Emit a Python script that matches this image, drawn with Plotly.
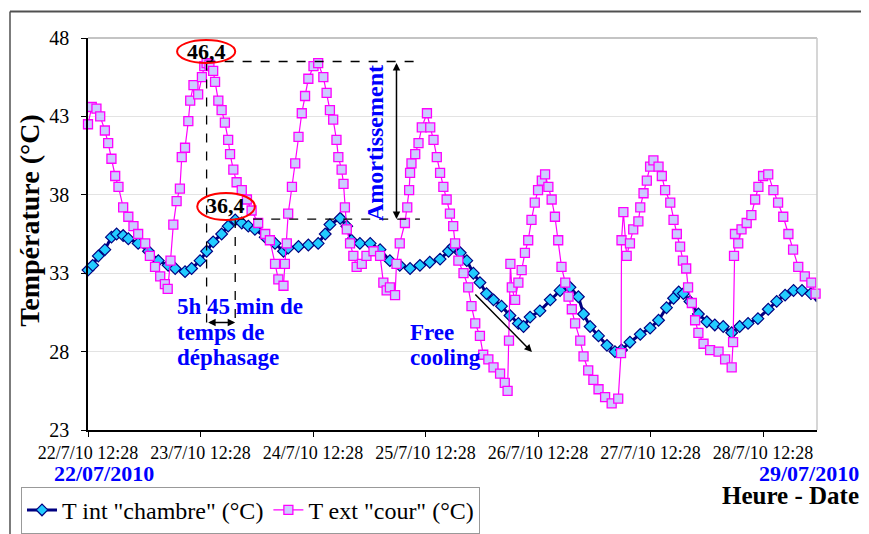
import pandas as pd
import plotly.graph_objects as go

# readings: hours after 22/07/2010 12:28, temperatures in °C
int_hours = [0.0, 1.0, 2.2, 3.6, 5.0, 6.1, 7.5, 8.6, 10.7, 12.9, 15.0, 17.1, 18.6, 20.7,
             22.1, 23.9, 25.3, 26.7, 28.5, 29.9, 31.4, 32.8, 34.2, 35.6, 37.8, 39.9,
             41.7, 42.7, 44.9, 47.0, 49.1, 50.6, 51.6, 53.8, 55.2, 56.2, 58.0, 60.2,
             62.3, 64.4, 66.5, 68.7, 70.8, 72.9, 75.1, 76.9, 77.9, 79.4, 80.8, 82.2,
             83.6, 85.0, 86.5, 88.2, 90.0, 91.8, 92.9, 94.3, 96.4, 98.6, 100.7, 102.8,
             104.6, 105.7, 107.1, 108.9, 110.7, 112.4, 113.8, 115.6, 117.8, 119.9,
             121.7, 123.4, 124.9, 126.0, 127.0, 128.4, 130.2, 132.0, 133.7, 135.5,
             137.3, 139.0, 140.8, 142.9, 145.1, 146.9, 148.7, 150.5, 152.3, 154.2, 155.6]
int_temp = [33.2, 33.5, 34.1, 34.5, 35.3, 35.5, 35.4, 35.2, 34.9, 34.4, 33.8, 33.5, 33.3, 33.1,
            33.3, 33.8, 34.4, 35.0, 35.5, 36.0, 36.4, 36.2, 36.0, 35.8, 35.3, 34.9,
            34.4, 34.6, 34.7, 34.8, 34.9, 35.5, 36.1, 36.5, 36.0, 35.1, 34.9, 34.9,
            34.5, 33.8, 33.5, 33.3, 33.5, 33.7, 33.9, 34.4, 34.7, 34.3, 33.8, 33.0,
            32.4, 31.7, 31.3, 30.9, 30.3, 29.8, 29.6, 30.2, 30.6, 31.3, 31.9, 32.1,
            31.5, 30.4, 29.6, 29.0, 28.4, 28.0, 28.1, 28.6, 29.1, 29.5,
            30.0, 30.8, 31.4, 31.8, 31.7, 31.2, 30.4, 29.9, 29.7, 29.6,
            29.2, 29.6, 29.8, 30.1, 30.7, 31.2, 31.6, 31.9, 31.9, 31.7, 31.2]

ext_hours = [0.0, 0.8, 1.8, 2.6, 3.6, 4.3, 5.0, 5.8, 6.5, 7.5, 8.6, 9.7, 10.7, 12.2, 13.2,
             14.3, 15.4, 16.4, 17.0, 17.6, 18.2, 18.9, 19.6, 20.0, 20.7, 21.4, 21.8,
             22.5, 23.5, 24.3, 24.8, 25.3, 25.9, 26.7, 27.1, 27.8, 28.5, 29.2, 29.9,
             30.3, 31.0, 31.7, 32.8, 33.9, 34.9, 36.3, 37.8, 38.8, 39.9, 40.6, 41.7,
             42.0, 42.4, 42.7, 43.5, 44.2, 44.9, 45.6, 46.3, 47.0, 48.1, 49.1, 50.2,
             50.9, 51.6, 52.3, 53.0, 53.4, 54.1, 54.5, 54.8, 55.2, 55.9, 56.6, 57.3,
             58.4, 59.4, 60.9, 62.3, 63.0, 63.7, 64.4, 65.5, 65.8, 66.5, 67.6, 68.1,
             68.5, 68.7, 69.0, 69.8, 70.5, 71.2, 72.3, 73.0, 73.7, 74.4, 75.1, 75.8,
             76.5, 77.2, 77.9, 78.3, 79.0, 80.1, 81.1, 81.8, 82.6, 83.6, 84.3, 85.4,
             86.5, 87.9, 88.9, 89.5, 89.8, 90.1, 90.4, 91.1, 91.8, 92.5, 93.2, 93.9,
             94.6, 95.3, 96.0, 96.8, 97.5, 98.2, 98.9, 99.6, 100.3, 101.0, 101.8,
             102.5, 103.2, 103.9, 105.0, 105.7, 106.7, 107.8, 108.9, 110.3, 111.7,
             113.1, 113.7, 113.8, 114.2, 114.9, 115.6, 116.3, 117.4, 117.8, 118.5,
             119.2, 119.9, 120.6, 121.7, 122.4, 123.1, 124.2, 124.9, 125.6, 126.3,
             126.9, 127.6, 128.0, 128.8, 129.5, 130.2, 131.3, 132.7, 134.5, 135.9,
             137.3, 137.6, 137.8, 138.0, 138.7, 139.4, 140.5, 141.5, 142.3, 143.0,
             144.0, 145.1, 146.2, 147.2, 148.3, 149.4, 150.4, 151.5, 152.9, 154.3, 155.2]
ext_temp = [42.5, 43.6, 43.5, 43.0, 42.1, 41.3, 40.3, 39.2, 38.5, 37.2, 36.6, 36.0, 35.5, 34.9, 34.1,
            33.4, 32.8, 32.3, 32.0, 33.8, 36.1, 37.6, 38.4, 40.4, 41.0, 42.7, 44.0,
            45.0, 44.4, 45.5, 46.2, 46.4, 46.3, 45.9, 45.2, 44.0, 43.4, 42.6, 41.5,
            40.6, 39.6, 38.8, 38.3, 37.7, 37.0, 36.2, 35.5, 35.1, 33.6, 32.6, 32.2,
            33.6, 34.9, 36.8, 38.5, 40.0, 41.7, 43.2, 44.3, 45.4, 46.2, 46.4, 45.5,
            44.5, 43.4, 42.8, 41.5, 40.4, 39.6, 38.7, 37.2, 35.8, 34.9, 34.1, 33.4,
            33.6, 34.1, 34.4, 34.1, 32.4, 31.9, 32.1, 31.6, 33.6, 34.9, 36.2, 37.2,
            38.3, 39.4, 40.0, 40.6, 41.3, 42.3, 43.2, 42.3, 41.5, 40.4, 39.4, 38.5,
            37.7, 36.8, 36.0, 34.9, 33.8, 33.0, 32.1, 30.9, 29.8, 29.0, 27.8, 27.5,
            27.0, 26.6, 26.0, 25.5, 28.7, 33.6, 32.1, 31.3, 32.4, 33.2, 34.3, 35.1,
            36.4, 37.5, 38.3, 38.9, 39.3, 38.5, 37.7, 36.6, 35.1, 33.4, 32.4,
            31.5, 30.7, 29.8, 28.7, 27.7, 26.8, 26.2, 25.6, 25.1, 24.7,
            25.0, 27.9, 35.1, 36.9, 34.1, 34.9, 35.8, 36.3, 37.2, 38.1,
            38.9, 39.8, 40.2, 39.8, 39.2, 38.3, 37.5, 36.4, 35.5, 34.7,
            33.8, 33.3, 32.1, 31.1, 30.0, 29.2, 28.5, 28.1, 28.0, 27.5,
            27.0, 28.6, 34.1, 35.5, 34.9, 35.8, 36.2, 36.7, 37.7, 38.5,
            39.2, 39.3, 38.3, 37.5, 36.6, 35.5, 34.5, 33.4, 32.8, 32.4, 31.7]

tick_labels = ['22/7/10 12:28', '23/7/10 12:28', '24/7/10 12:28', '25/7/10 12:28',
               '26/7/10 12:28', '27/7/10 12:28', '28/7/10 12:28']

base = pd.Timestamp('2010-07-22 12:28')


def at(h):
    return str(base + pd.Timedelta(hours=h))


FONT = 'Liberation Serif'
BLUE = '#0000ff'

fig = go.Figure()
fig.add_trace(go.Scatter(
    x=[at(h) for h in int_hours], y=int_temp, mode='lines+markers',
    name='T int "chambre" (°C)', cliponaxis=False,
    line=dict(color='#000080', width=3),
    marker=dict(symbol='diamond', size=9, color='#22ccff',
                line=dict(color='#000080', width=1.2))
))
fig.add_trace(go.Scatter(
    x=[at(h) for h in ext_hours], y=ext_temp, mode='lines+markers',
    name='T ext "cour" (°C)', cliponaxis=False,
    line=dict(color='#ff00ff', width=1.2),
    marker=dict(symbol='square', size=9, color='#ccccff',
                line=dict(color='#ff00ff', width=1.3))
))

dash = dict(color='black', width=1.3, dash='dash')
shapes = [
    # plot frame (top / right) and outer chart frame
    dict(type='line', xref='paper', yref='paper', x0=0, x1=1, y0=1, y1=1,
         line=dict(color='#b0b0b0', width=1.5)),
    dict(type='line', xref='paper', yref='paper', x0=1, x1=1, y0=0, y1=1,
         line=dict(color='#c8c8c8', width=1.5)),
    dict(type='line', xref='paper', yref='paper', x0=-0.107, x1=1.08, y0=1.0676, y1=1.0676,
         line=dict(color='#505050', width=2)),
    dict(type='line', xref='paper', yref='paper', x0=-0.107, x1=-0.107, y0=1.0676, y1=-0.28,
         line=dict(color='#505050', width=1.5)),
    # dashed guides
    dict(type='line', x0=at(25.3), x1=at(70.8), y0=46.5, y1=46.5, line=dash),
    dict(type='line', x0=at(31.4), x1=at(70.8), y0=36.45, y1=36.45, line=dash),
    dict(type='line', x0=at(25.3), x1=at(25.3), y0=46.5, y1=29.85, line=dash),
    dict(type='line', x0=at(31.4), x1=at(31.4), y0=36.45, y1=29.85, line=dash),
    # red ellipses
    dict(type='circle', x0=at(19.0), x1=at(31.4), y0=46.41, y1=47.87,
         line=dict(color='#ff0000', width=2)),
    dict(type='circle', x0=at(23.3), x1=at(35.6), y0=36.39, y1=38.11,
         line=dict(color='#ff0000', width=2)),
]

arrow = dict(xref='x', yref='y', axref='x', ayref='y', text='', showarrow=True,
             arrowhead=2, arrowsize=1, arrowwidth=1.5, arrowcolor='black')


def label(x, y, text, size, color=BLUE, **kw):
    return dict(x=x, y=y, text=text, showarrow=False, yanchor='middle',
                font=dict(family=FONT, size=size, color=color), **kw)


annotations = [
    dict(arrow, x=at(31.4), y=29.85, ax=at(25.3), ay=29.85, arrowside='end+start'),
    dict(arrow, x=at(65.8), y=36.45, ax=at(65.8), ay=46.5, arrowside='end+start'),
    dict(arrow, x=at(94.7), y=27.97, ax=at(82.3), ay=31.74),
    label(at(25.2), 47.14, '<b>46,4</b>', 22, 'black', xanchor='center'),
    label(at(29.4), 37.29, '<b>36,4</b>', 22, 'black', xanchor='center'),
    label(at(61.2), 41.3, '<b>Amortissement</b>', 24, textangle=-90, xanchor='center'),
    label(at(18.6), 30.9, '<b>5h 45 min de</b>', 23, xanchor='left'),
    label(at(18.6), 29.25, '<b>temps de</b>', 23, xanchor='left'),
    label(at(18.6), 27.6, '<b>déphasage</b>', 23, xanchor='left'),
    label(at(68.3), 29.25, '<b>Free</b>', 23, xanchor='left'),
    label(at(68.3), 27.6, '<b>cooling</b>', 23, xanchor='left'),
    label(0.0213, -0.11, '<b>22/07/2010</b>', 22, xref='paper', yref='paper',
          xanchor='center'),
    label(1.0605, -0.11, '<b>29/07/2010</b>', 22, xref='paper', yref='paper',
          xanchor='right'),
    label(1.0605, -0.166, '<b>Heure - Date</b>', 25, 'black', xref='paper', yref='paper',
          xanchor='right'),
    label(-0.0796, 0.536, '<b>Température (°C)</b>', 28, 'black', xref='paper',
          yref='paper', xanchor='center', textangle=-90),
]

# the page body adds an 8 px margin, so the figure is 8 px smaller on each axis
fig.update_layout(
    width=861, height=526,
    margin=dict(l=80, r=52, t=30, b=104, autoexpand=False),
    paper_bgcolor='white', plot_bgcolor='white',
    font=dict(family=FONT, color='black'),
    shapes=shapes, annotations=annotations,
    showlegend=True,
    legend=dict(orientation='h', x=-0.0919, y=-0.145, xanchor='left', yanchor='top',
                bordercolor='#999999', borderwidth=1, font=dict(family=FONT, size=24),
                itemwidth=30, tracegroupgap=0),
    xaxis=dict(type='date', range=[at(0), at(155.5)],
               tickvals=[at(24 * k) for k in range(len(tick_labels))], ticktext=tick_labels,
               ticks='outside', ticklen=5, tickcolor='black', showgrid=False,
               showline=True, linecolor='black', linewidth=1.5,
               tickfont=dict(family=FONT, size=18), ticklabelstandoff=1, zeroline=False),
    yaxis=dict(range=[23, 48], dtick=5, tick0=23, ticks='outside', ticklen=5,
               tickcolor='black', showgrid=True, gridcolor='#e3e3e3',
               showline=True, linecolor='black', linewidth=1.5, zeroline=False,
               tickfont=dict(family=FONT, size=20), ticklabelstandoff=8),
)

fig.write_html("out.html")
